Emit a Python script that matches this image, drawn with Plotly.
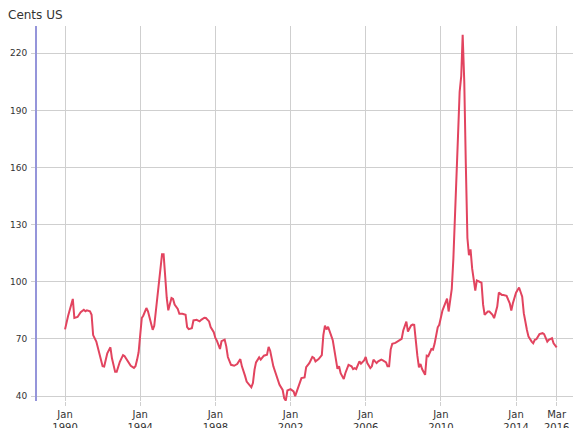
import plotly.graph_objects as go

# monthly price readings (cents US)
months = [
    "1990-01", "1990-03", "1990-06", "1990-07", "1990-09", "1990-11",
    "1991-01", "1991-02", "1991-03", "1991-05", "1991-06", "1991-07", "1991-09", "1991-11",
    "1992-01", "1992-02", "1992-04", "1992-06", "1992-07", "1992-09", "1992-10", "1992-12",
    "1993-02", "1993-03", "1993-05", "1993-07", "1993-09", "1993-10", "1993-11", "1993-12",
    "1994-01", "1994-02", "1994-03", "1994-05", "1994-06", "1994-08", "1994-09", "1994-10", "1994-12",
    "1995-01", "1995-03", "1995-04", "1995-05", "1995-06", "1995-07", "1995-09", "1995-10", "1995-11",
    "1996-01", "1996-02", "1996-04", "1996-06", "1996-07", "1996-08", "1996-10", "1996-11",
    "1997-01", "1997-03", "1997-04", "1997-06", "1997-07", "1997-09", "1997-10", "1997-12",
    "1998-01", "1998-02", "1998-04", "1998-05", "1998-07", "1998-08", "1998-09", "1998-11",
    "1999-01", "1999-03", "1999-05", "1999-06", "1999-08", "1999-09", "1999-12",
    "2000-01", "2000-02", "2000-03", "2000-05", "2000-06", "2000-08", "2000-10", "2000-11", "2000-12",
    "2001-02", "2001-04", "2001-06", "2001-08", "2001-09", "2001-10", "2001-11",
    "2002-01", "2002-03", "2002-04", "2002-06", "2002-08", "2002-10", "2002-11",
    "2003-01", "2003-03", "2003-04", "2003-05", "2003-07", "2003-08", "2003-09", "2003-10", "2003-11", "2003-12",
    "2004-01", "2004-02", "2004-03", "2004-04", "2004-05", "2004-06", "2004-07", "2004-08", "2004-09", "2004-11", "2004-12",
    "2005-02", "2005-04", "2005-05", "2005-06", "2005-07", "2005-09", "2005-10", "2005-12",
    "2006-01", "2006-02", "2006-04", "2006-05", "2006-06", "2006-08", "2006-09", "2006-11", "2006-12",
    "2007-02", "2007-03", "2007-04", "2007-05", "2007-06", "2007-08", "2007-10", "2007-12",
    "2008-01", "2008-03", "2008-04", "2008-06", "2008-07", "2008-08", "2008-10", "2008-11", "2008-12",
    "2009-01", "2009-03", "2009-04", "2009-05", "2009-07", "2009-08", "2009-09", "2009-11", "2009-12",
    "2010-02", "2010-03", "2010-05", "2010-06", "2010-08", "2010-09", "2010-10", "2010-11", "2010-12",
    "2011-01", "2011-02", "2011-03", "2011-04", "2011-05", "2011-06", "2011-07", "2011-08", "2011-09", "2011-11", "2011-12",
    "2012-01", "2012-02", "2012-03", "2012-04", "2012-05", "2012-07", "2012-08", "2012-10", "2012-11",
    "2013-01", "2013-02", "2013-04", "2013-05", "2013-07", "2013-09", "2013-10", "2013-11",
    "2014-01", "2014-03", "2014-05", "2014-06", "2014-08", "2014-09", "2014-11", "2014-12",
    "2015-01", "2015-02", "2015-04", "2015-06", "2015-07", "2015-09", "2015-10", "2015-12",
    "2016-01", "2016-03",
]
prices = [
    75, 82, 91, 81, 81.5, 84,
    85.3, 84.5, 85, 84.5, 82.7, 72, 68.6, 61.5,
    55.7, 55.5, 62.4, 65.6, 59.8, 52.7, 52.7, 58,
    61.5, 61, 58.5, 55.9, 54.8, 55.7, 59, 63,
    72, 81, 82.2, 86.2, 84.5, 76.9, 74.8, 76.9, 93.3,
    100.3, 114.4, 114.4, 101.2, 91.5, 85, 91.5, 91, 88,
    85.7, 83.2, 83.2, 82.7, 76.2, 75.1, 75.6, 79.7,
    80, 79.2, 80, 81.1, 81, 79.2, 76.2, 73.5,
    70.5, 69, 64.7, 68.8, 69.6, 66.1, 60.5, 56.4,
    55.9, 56.8, 59.4, 55.6, 50.6, 47.6, 44.6,
    46.8, 53.8, 57.7, 60.3, 59.1, 61.2, 61.7, 65.8, 63.8,
    55.6, 50.3, 45.9, 43.2, 38.8, 37.6, 42.9,
    43.6, 42.4, 40, 45, 49.4, 49.8, 55.2,
    57.3, 60.5, 60, 58.2, 59.4, 60.8, 61.5, 72, 77, 75,
    76.3, 74, 71, 69.3, 64.4, 59.1, 54.3, 55.6, 52, 48.9, 52,
    56.4, 55.6, 54.2, 54.7, 54.2, 58.2, 57, 58.7,
    60.5, 57.3, 54.7, 55.6, 59.1, 57.3, 58.2, 59.1, 58.7,
    57.7, 55.6, 55.6, 64.4, 67.4, 67.9, 69.1, 70,
    74.4, 79.1, 73.9, 77, 77.5, 77.4, 61.2, 55.1, 56.8,
    54.2, 51.1, 61.2, 60.9, 64.7, 64.4, 67.4, 76.1, 77.4,
    84.9, 86.7, 91.1, 84.4, 96.3, 112, 136.7, 157.7, 177,
    199.8, 208, 229.7, 205, 162, 123, 114, 117, 107, 95.4, 100.7,
    100.2, 99.8, 99.5, 88, 82.6, 84.4, 84.4, 82.6, 80.9,
    87, 94.3, 93.1, 93.1, 92.6, 88.7, 84.9, 88.7,
    94.3, 97, 92.2, 83.5, 74.7, 71.2, 68.6, 67.7,
    69.5, 69.8, 72.5, 73, 72.5, 68.6, 69.5, 70.4,
    67.7, 65.6,
]

tick_dates = ["1990-01-01", "1994-01-01", "1998-01-01", "2002-01-01",
              "2006-01-01", "2010-01-01", "2014-01-01", "2016-03-01"]
tick_labels = ["Jan<br>1990", "Jan<br>1994", "Jan<br>1998", "Jan<br>2002",
               "Jan<br>2006", "Jan<br>2010", "Jan<br>2014", "Mar<br>2016"]
y_ticks = [40, 70, 100, 130, 160, 190, 220]

fig = go.Figure(go.Scatter(
    x=[m + "-01" for m in months],
    y=prices,
    mode="lines",
    line=dict(color="#e2445f", width=2),
    hoverinfo="x+y",
))

# the page body adds an 8px offset, so the figure is 8px smaller than the window
grid = "#cfcfcf"
fig.update_layout(
    width=573,
    height=420,
    margin=dict(l=29, r=0, t=18, b=27),
    paper_bgcolor="white",
    plot_bgcolor="white",
    showlegend=False,
    font=dict(family="DejaVu Sans, Verdana, sans-serif", size=10, color="#333"),
    title=dict(text="Cents US", x=0, xanchor="left", y=1 - 7 / 420,
               yanchor="middle", font=dict(size=12, color="#333")),
    xaxis=dict(
        type="date",
        range=["1988-07-05", "2017-06-17"],
        tickvals=tick_dates,
        ticktext=tick_labels,
        showgrid=True, gridcolor=grid, gridwidth=1,
        ticks="outside", ticklen=4, tickcolor=grid,
        showline=False, zeroline=False,
        automargin=False,
    ),
    yaxis=dict(
        range=[37.4, 234.3],
        tickvals=y_ticks,
        tickfont=dict(size=9),
        ticklabelstandoff=2,
        showgrid=True, gridcolor=grid, gridwidth=1,
        ticks="outside", ticklen=4, tickcolor=grid,
        showline=True, linecolor="#9595da", linewidth=2,
        zeroline=False,
        automargin=False,
    ),
)

fig.write_html("out.html")
